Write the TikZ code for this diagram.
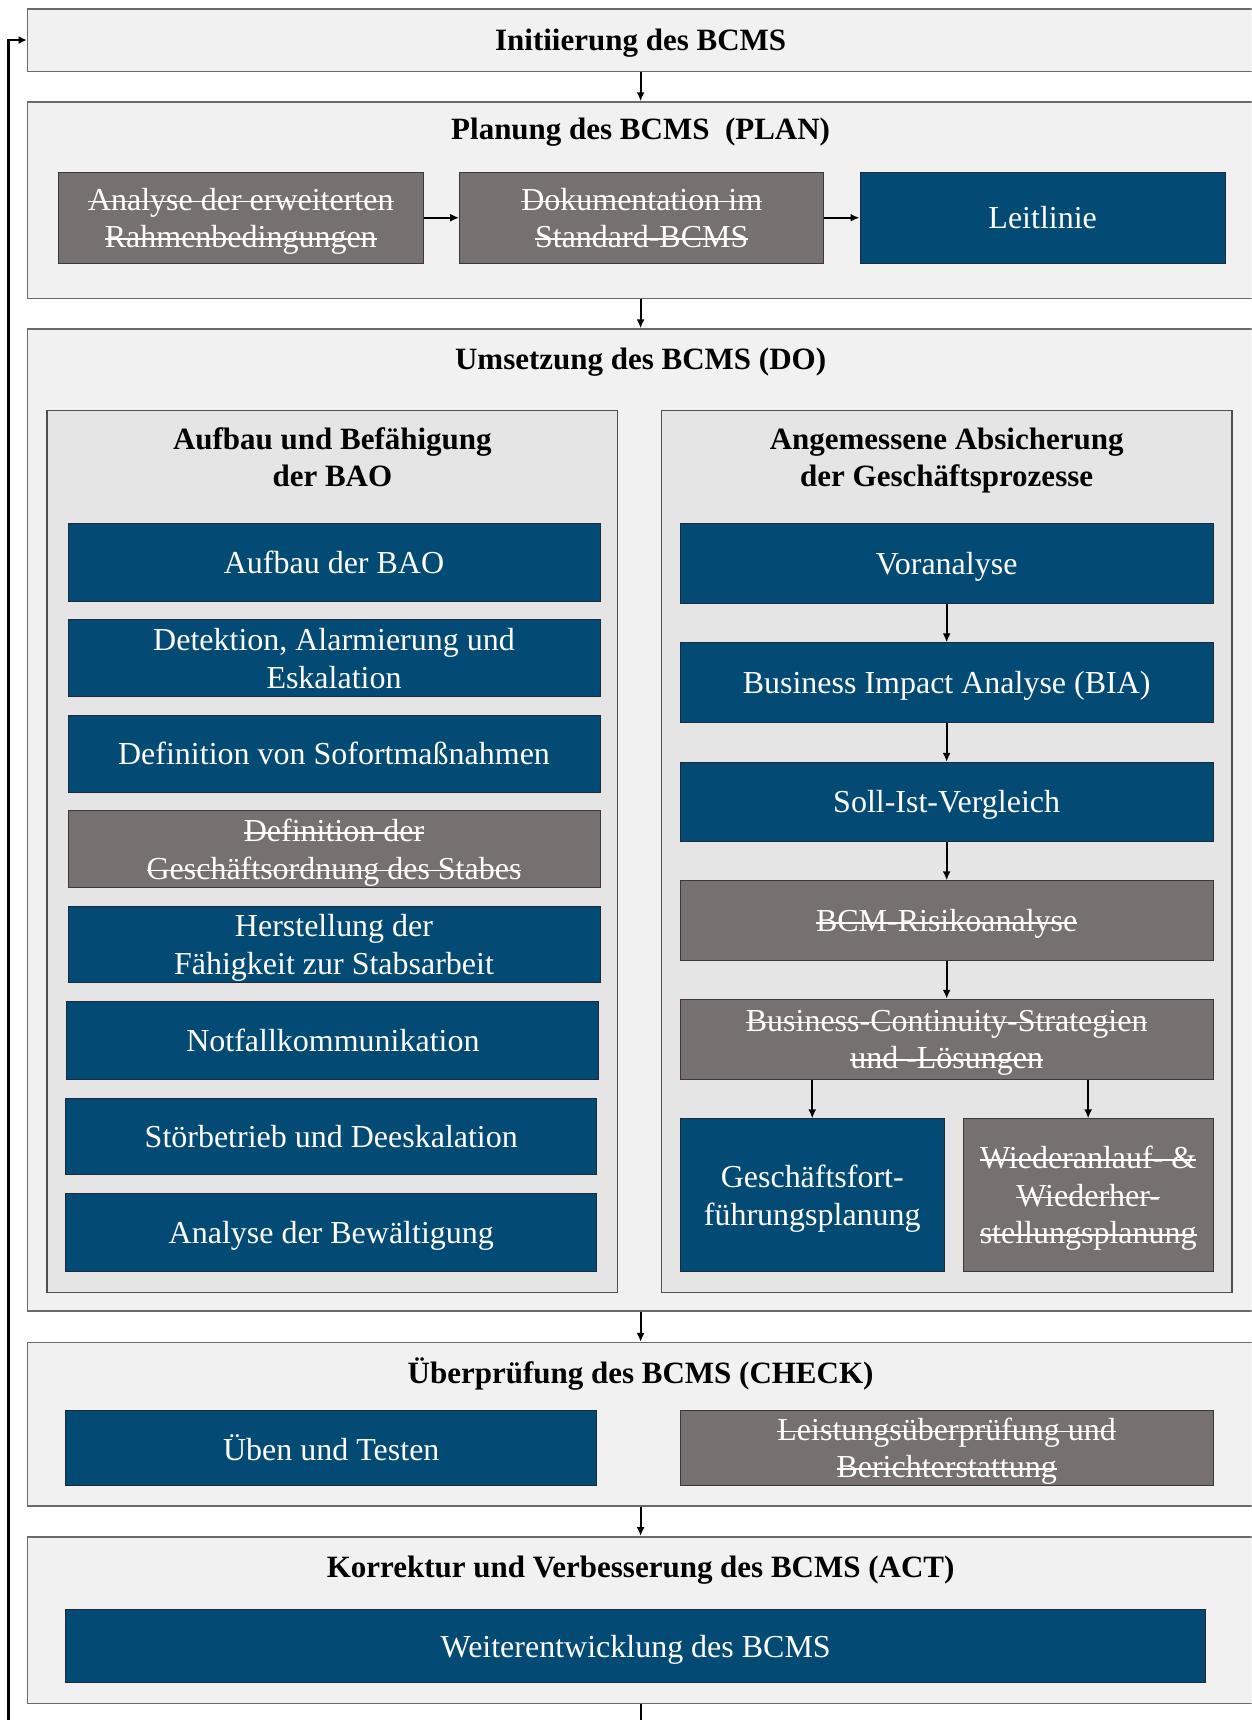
\documentclass[tikz,border=0pt]{standalone}
\usepackage{fontspec}
\setmainfont{Liberation Serif}
\usetikzlibrary{fit,arrows.meta}

\definecolor{outerfill}{HTML}{F1F1F1}
\definecolor{outerline}{HTML}{6A6A6A}
\definecolor{groupfill}{HTML}{E5E5E5}
\definecolor{groupline}{HTML}{505050}
\definecolor{taskblue}{HTML}{034B74}
\definecolor{taskedge}{HTML}{1B2B38}
\definecolor{dropgrey}{HTML}{767170}
\definecolor{dropedge}{HTML}{3A3838}

\newcommand\bcbody{\fontsize{32}{37.5}\selectfont}
\newcommand\bchead{\fontsize{31}{37}\selectfont\bfseries}

% struck-through text: the text with a rule across it in the current colour
\newsavebox\strikebox
\newcommand\strk[1]{\leavevmode\sbox\strikebox{#1}\rlap{\usebox\strikebox}\rule[0.25em]{\wd\strikebox}{1.5pt}}

% a box node given by its corners: style, name, x1, y1, x2, y2, text
\newcommand\bcbox[7]{%
  \node[#1, minimum width={(#5-#3)*1.0973pt}, minimum height={(#6-#4)*1.0973pt}]
    (#2) at ({(#3+#5)/2},{(#4+#6)/2}) {#7};}

\begin{document}
\begin{tikzpicture}[x=1.0973pt,y=-1.0973pt,
  outerbox/.style={draw=outerline, fill=outerfill, line width=1.5pt, inner sep=0pt},
  groupbox/.style={draw=groupline, fill=groupfill, line width=1.4pt, inner sep=0pt},
  taskbox/.style={draw=taskedge, fill=taskblue, line width=1pt, inner sep=0pt,
    text=white, align=center, font=\bcbody, text depth=0pt},
  droppedbox/.style={taskbox, draw=dropedge, fill=dropgrey},
  heading/.style={font=\bchead, align=center, inner sep=0pt},
  flow/.style={line width=2pt, -{Latex[length=9pt,width=8pt]}},
  loopline/.style={line width=2.8pt, -{Latex[length=8pt,width=8pt]}}
]
\useasboundingbox (0,0) rectangle (1141,1568);
\clip (0,0) rectangle (1141,1568);

% ---- Initiierung
\bcbox{outerbox, heading, text depth=0pt}{init}{25}{8}{1143}{65}{Initiierung des BCMS}

% ---- PLAN
\bcbox{outerbox}{plan}{25}{93}{1143}{272}{}
\node[heading, anchor=base] (planT) at (584,127) {Planung des BCMS\ \ (PLAN)};
\bcbox{droppedbox}{p1}{53}{157}{386}{240}{\strk{Analyse der erweiterten}\\\strk{Rahmenbedingungen}}
\bcbox{droppedbox}{p2}{419}{157}{751}{240}{\strk{Dokumentation im}\\\strk{Standard-BCMS}}
\bcbox{taskbox}{p3}{784}{157}{1117}{240}{Leitlinie}

% ---- DO
\bcbox{outerbox}{do}{25}{300}{1143}{1195}{}
\node[heading, anchor=base] (doT) at (584,337) {Umsetzung des BCMS (DO)};

\bcbox{groupbox}{bao}{43}{374}{563}{1178}{}
\node[heading] (baoT) at (303,417) {Aufbau und Befähigung\\der BAO};
\bcbox{taskbox}{b1}{62}{477}{547}{548}{Aufbau der BAO}
\bcbox{taskbox}{b2}{62}{565}{547}{635}{Detektion, Alarmierung und\\Eskalation}
\bcbox{taskbox}{b3}{62}{652}{547}{722}{Definition von Sofortmaßnahmen}
\bcbox{droppedbox}{b4}{62}{739}{547}{809}{\strk{Definition der}\\\strk{Geschäftsordnung des Stabes}}
\bcbox{taskbox}{b5}{62}{826}{547}{896}{Herstellung der\\Fähigkeit zur Stabsarbeit}
\bcbox{taskbox}{b6}{61}{913}{546}{984}{Notfallkommunikation}
\bcbox{taskbox}{b7}{60}{1001}{544}{1071}{Störbetrieb und Deeskalation}
\bcbox{taskbox}{b8}{60}{1088}{544}{1159}{Analyse der Bewältigung}

\bcbox{groupbox}{gp}{603}{374}{1123}{1178}{}
\node[heading] (gpT) at (863,420) {Angemessene Absicherung\\der Geschäftsprozesse};
\bcbox{taskbox}{r1}{620}{477}{1106}{550}{Voranalyse}
\bcbox{taskbox}{r2}{620}{586}{1106}{659}{Business Impact Analyse (BIA)}
\bcbox{taskbox}{r3}{620}{695}{1106}{767}{Soll-Ist-Vergleich}
\bcbox{droppedbox}{r4}{620}{803}{1106}{876}{\strk{BCM-Risikoanalyse}}
\bcbox{droppedbox}{r5}{620}{911}{1106}{984}{\strk{Business-Continuity-Strategien}\\\strk{und -Lösungen}}
\bcbox{taskbox}{r6}{620}{1020}{861}{1159}{Geschäftsfort-\\führungsplanung}
\bcbox{droppedbox}{r7}{878}{1020}{1106}{1159}{\strk{Wiederanlauf- \&}\\\strk{Wiederher-}\\\strk{stellungsplanung}}

% ---- CHECK
\bcbox{outerbox}{check}{25}{1224}{1143}{1373}{}
\node[heading, anchor=base] (checkT) at (584,1261) {Überprüfung des BCMS (CHECK)};
\bcbox{taskbox}{c1}{60}{1286}{544}{1354}{Üben und Testen}
\bcbox{droppedbox}{c2}{620}{1286}{1106}{1354}{\strk{Leistungsüberprüfung und}\\\strk{Berichterstattung}}

% ---- ACT
\bcbox{outerbox}{act}{25}{1401}{1143}{1553}{}
\node[heading, anchor=base] (actT) at (584,1438) {Korrektur und Verbesserung des BCMS (ACT)};
\bcbox{taskbox}{a1}{60}{1467}{1099}{1534}{Weiterentwicklung des BCMS}

% ---- connectors
\draw[flow] (init) -- (plan);
\draw[flow] (plan) -- (do);
\draw[flow] (do) -- (check);
\draw[flow] (check) -- (act);
\draw[flow] (p1) -- (p2);
\draw[flow] (p2) -- (p3);
\draw[flow] (r1) -- (r2);
\draw[flow] (r2) -- (r3);
\draw[flow] (r3) -- (r4);
\draw[flow] (r4) -- (r5);
\draw[flow] (r5.south -| r6.north) -- (r6.north);
\draw[flow] (r5.south -| r7.north) -- (r7.north);

% ---- feedback loop back to the start
\coordinate (loopturn) at (8,1600);
\draw[line width=2pt] (act.south) |- (loopturn);
\draw[loopline] (loopturn) |- (init.west);
\end{tikzpicture}
\end{document}
